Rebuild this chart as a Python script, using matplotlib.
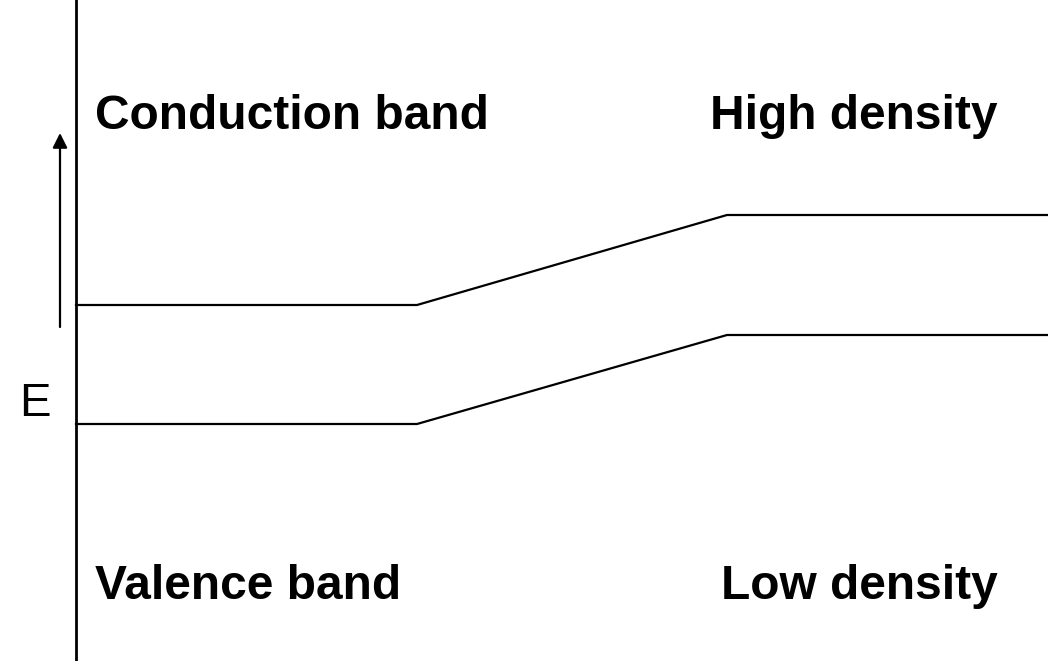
import matplotlib
matplotlib.use("Agg")
import matplotlib.pyplot as plt

# band edges, in picture pixels (x to the right, y downwards)
band_x = [76, 417, 727, 1048]
conduction_y = [305, 305, 215, 215]
valence_y = [424, 424, 335, 335]

labels_left = ["Conduction band", "Valence band"]
labels_right = ["High density", "Low density"]
label_y = [129, 599]

plt.rcParams['font.family'] = ['Liberation Sans', 'DejaVu Sans']

fig = plt.figure(figsize=(10.48, 6.61), dpi=100)
ax = fig.add_axes([0, 0, 1, 1])
ax.set_xlim(0, 1048)
ax.set_ylim(661, 0)
ax.axis("off")

# axis line on the left
ax.plot([76, 76], [0, 661], color="black", lw=2)

ax.plot(band_x, conduction_y, color="black", lw=1.6)
ax.plot(band_x, valence_y, color="black", lw=1.6)

# energy arrow
ax.annotate("", xy=(60, 133), xytext=(60, 327),
            arrowprops=dict(arrowstyle="-|>", color="black", lw=1.6,
                            mutation_scale=22, shrinkA=0, shrinkB=0))
ax.text(35, 416, "E", fontsize=34, ha="center", va="baseline")

for lab, y in zip(labels_left, label_y):
    ax.text(95, y, lab, fontsize=34.5, fontweight="bold", ha="left", va="baseline")
for lab, y in zip(labels_right, label_y):
    ax.text(998, y, lab, fontsize=34.5, fontweight="bold", ha="right", va="baseline")

fig.savefig("out.png", dpi=100)
